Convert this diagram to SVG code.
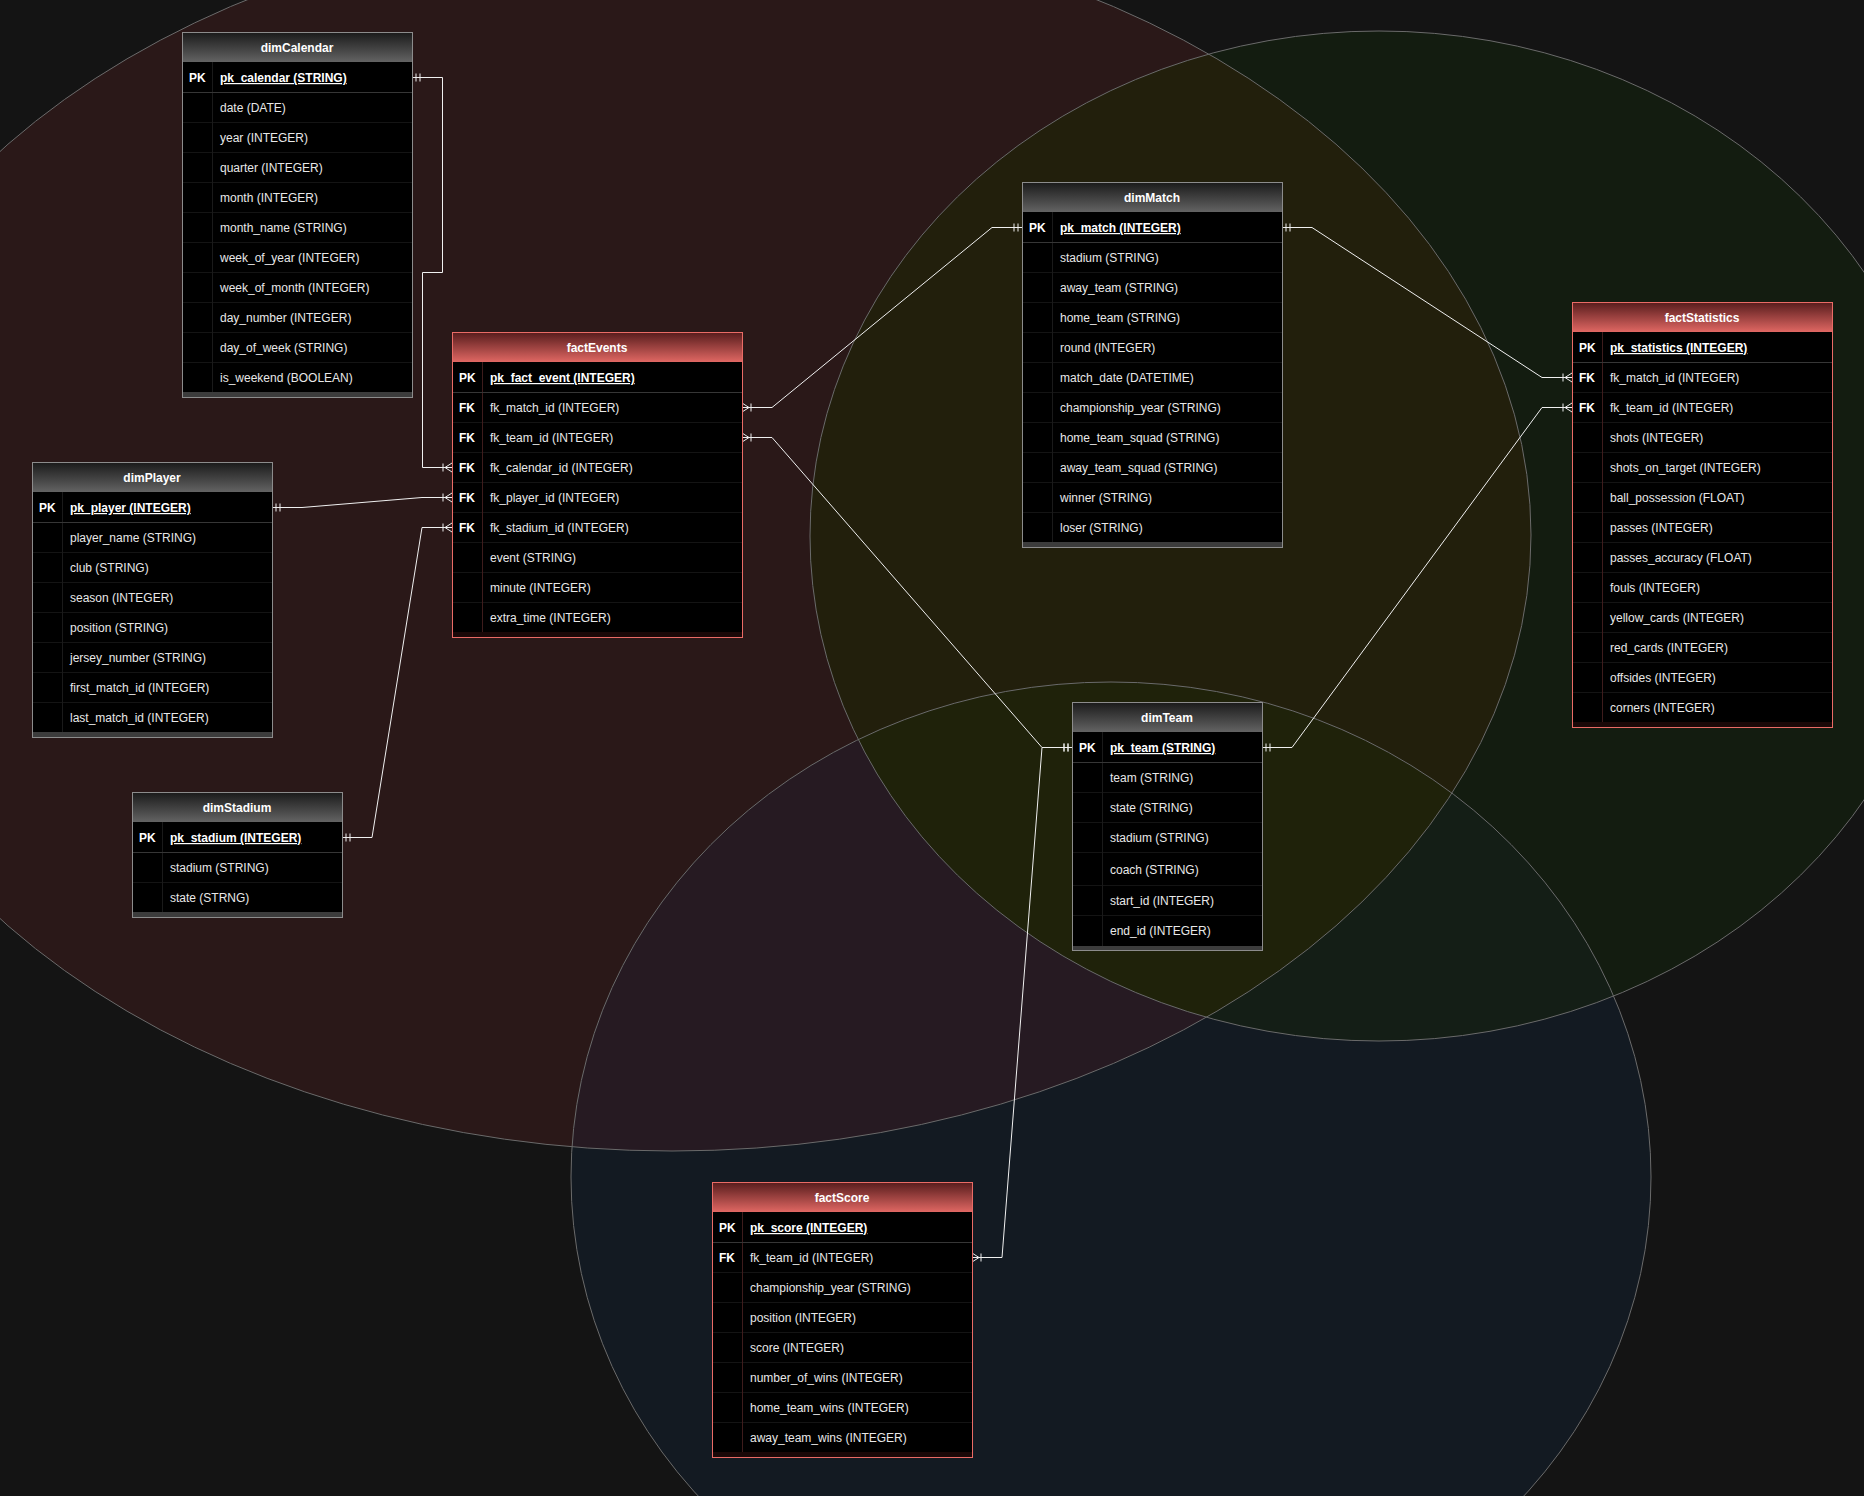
<svg xmlns="http://www.w3.org/2000/svg" width="1864" height="1496" viewBox="0 0 1864 1496">
<style>
  text { font-family: "Liberation Sans", Arial, Helvetica, sans-serif; font-size: 12px; }
  .hd { font-weight: bold; fill: #ffffff; text-anchor: middle; }
  .key { font-weight: bold; fill: #ffffff; }
  .fld { fill: #e8e8e8; }
  .pkf { font-weight: bold; fill: #ffffff; text-decoration: underline; }
  .frame-dim { fill: #3c3c3c; stroke: #8c8c8c; stroke-width: 1; }
  .frame-fact { fill: #1a0808; stroke: #ea6b66; stroke-width: 1; }
  .body { fill: #000000; }
  .sep { fill: none; stroke: #141414; stroke-width: 1; }
  .pksep { fill: none; stroke: #363636; stroke-width: 1; }
  .col-dim { fill: none; stroke: #1a1a1a; stroke-width: 1; }
  .col-fact { fill: none; stroke: #3e1c1c; stroke-width: 1; }
  .conn { fill: none; stroke: #f0f0f0; stroke-width: 1; marker-start: url(#many); marker-end: url(#one); }
  .venn-line { fill: none; stroke: #6a6a6a; stroke-width: 1; }
</style>
<defs>
  <linearGradient id="gDim" x1="0" y1="0" x2="0" y2="1">
    <stop offset="0" stop-color="#1c1c1c"/>
    <stop offset="1" stop-color="#636363"/>
  </linearGradient>
  <linearGradient id="gFact" x1="0" y1="0" x2="0" y2="1">
    <stop offset="0" stop-color="#5a1e1e"/>
    <stop offset="1" stop-color="#e06763"/>
  </linearGradient>
  <ellipse id="eRed" cx="672" cy="535" rx="859" ry="616"/>
  <ellipse id="eGreen" cx="1379" cy="536" rx="569" ry="505"/>
  <ellipse id="eBlue" cx="1111" cy="1177" rx="540" ry="495"/>
  <clipPath id="cpRed"><use href="#eRed"/></clipPath>
  <clipPath id="cpGreen"><use href="#eGreen"/></clipPath>
  <marker id="many" markerUnits="userSpaceOnUse" viewBox="-2 -6 14 12" markerWidth="14" markerHeight="12" refX="0" refY="0" orient="auto">
    <path d="M0,-4.5 L7,0 M0,4.5 L7,0 M0,0 H10 M9,-4 V4" fill="none" stroke="#f0f0f0" stroke-width="1"/>
  </marker>
  <marker id="one" markerUnits="userSpaceOnUse" viewBox="-12 -6 14 12" markerWidth="14" markerHeight="12" refX="0" refY="0" orient="auto">
    <path d="M-4,-4 V4 M-8,-4 V4" fill="none" stroke="#f0f0f0" stroke-width="1"/>
  </marker>
</defs>

<rect x="0" y="0" width="1864" height="1496" fill="#141414"/>

<g id="venn">
  <use href="#eRed" fill="#2a1818"/>
  <use href="#eGreen" fill="#131c10"/>
  <use href="#eBlue" fill="#131a22"/>
  <g clip-path="url(#cpRed)"><use href="#eGreen" fill="#221f0c"/></g>
  <g clip-path="url(#cpRed)"><use href="#eBlue" fill="#261a22"/></g>
  <g clip-path="url(#cpGreen)"><use href="#eBlue" fill="#141e16"/></g>
  <g clip-path="url(#cpRed)"><g clip-path="url(#cpGreen)"><use href="#eBlue" fill="#1f220a"/></g></g>
  <use href="#eRed" class="venn-line"/>
  <use href="#eGreen" class="venn-line"/>
  <use href="#eBlue" class="venn-line"/>
</g>

<g id="connectors">
  <path class="conn" d="M452,467.5 H422.5 V272.5 H442.5 V77.5 H412"/>
  <path class="conn" d="M452,497.5 H422 L302,507.5 H272"/>
  <path class="conn" d="M452,527.5 H422 L372,837.5 H342"/>
  <path class="conn" d="M742,407.5 H772 L992,227.5 H1022"/>
  <path class="conn" d="M1572,377.5 H1542 L1312,227.5 H1282"/>
  <path class="conn" d="M742,437.5 H772 L1042,747.5 H1072"/>
  <path class="conn" d="M1572,407.5 H1542 L1292,747.5 H1262"/>
  <path class="conn" d="M972,1257.5 H1002 L1042,747.5 H1072"/>
</g>

<g id="dimCalendar">
  <rect class="frame-dim" x="182.5" y="32.5" width="230" height="365"/>
  <rect x="183" y="33" width="229" height="29" fill="url(#gDim)"/>
  <rect class="body" x="183" y="62" width="229" height="330"/>
  <path class="sep" d="M183,122.5H412M183,152.5H412M183,182.5H412M183,212.5H412M183,242.5H412M183,272.5H412M183,302.5H412M183,332.5H412M183,362.5H412"/>
  <path class="col-dim" d="M212.5,62V392"/>
  <path class="pksep" d="M183,92.5H412"/>
  <text class="hd" x="297" y="52">dimCalendar</text>
  <text class="key" x="189" y="82">PK</text>
  <text class="pkf" x="220" y="82">pk_calendar (STRING)</text>
  <text class="fld" x="220" y="112">date (DATE)</text>
  <text class="fld" x="220" y="142">year (INTEGER)</text>
  <text class="fld" x="220" y="172">quarter (INTEGER)</text>
  <text class="fld" x="220" y="202">month (INTEGER)</text>
  <text class="fld" x="220" y="232">month_name (STRING)</text>
  <text class="fld" x="220" y="262">week_of_year (INTEGER)</text>
  <text class="fld" x="220" y="292">week_of_month (INTEGER)</text>
  <text class="fld" x="220" y="322">day_number (INTEGER)</text>
  <text class="fld" x="220" y="352">day_of_week (STRING)</text>
  <text class="fld" x="220" y="382">is_weekend (BOOLEAN)</text>
</g>

<g id="dimPlayer">
  <rect class="frame-dim" x="32.5" y="462.5" width="240" height="275"/>
  <rect x="33" y="463" width="239" height="29" fill="url(#gDim)"/>
  <rect class="body" x="33" y="492" width="239" height="240"/>
  <path class="sep" d="M33,552.5H272M33,582.5H272M33,612.5H272M33,642.5H272M33,672.5H272M33,702.5H272"/>
  <path class="col-dim" d="M62.5,492V732"/>
  <path class="pksep" d="M33,522.5H272"/>
  <text class="hd" x="152" y="482">dimPlayer</text>
  <text class="key" x="39" y="512">PK</text>
  <text class="pkf" x="70" y="512">pk_player (INTEGER)</text>
  <text class="fld" x="70" y="542">player_name (STRING)</text>
  <text class="fld" x="70" y="572">club (STRING)</text>
  <text class="fld" x="70" y="602">season (INTEGER)</text>
  <text class="fld" x="70" y="632">position (STRING)</text>
  <text class="fld" x="70" y="662">jersey_number (STRING)</text>
  <text class="fld" x="70" y="692">first_match_id (INTEGER)</text>
  <text class="fld" x="70" y="722">last_match_id (INTEGER)</text>
</g>

<g id="dimStadium">
  <rect class="frame-dim" x="132.5" y="792.5" width="210" height="125"/>
  <rect x="133" y="793" width="209" height="29" fill="url(#gDim)"/>
  <rect class="body" x="133" y="822" width="209" height="90"/>
  <path class="sep" d="M133,882.5H342"/>
  <path class="col-dim" d="M162.5,822V912"/>
  <path class="pksep" d="M133,852.5H342"/>
  <text class="hd" x="237" y="812">dimStadium</text>
  <text class="key" x="139" y="842">PK</text>
  <text class="pkf" x="170" y="842">pk_stadium (INTEGER)</text>
  <text class="fld" x="170" y="872">stadium (STRING)</text>
  <text class="fld" x="170" y="902">state (STRNG)</text>
</g>

<g id="factEvents">
  <rect class="frame-fact" x="452.5" y="332.5" width="290" height="305"/>
  <rect x="453" y="333" width="289" height="29" fill="url(#gFact)"/>
  <rect class="body" x="453" y="362" width="289" height="270"/>
  <path class="sep" d="M453,422.5H742M453,452.5H742M453,482.5H742M453,512.5H742M453,542.5H742M453,572.5H742M453,602.5H742"/>
  <path class="col-fact" d="M482.5,362V632"/>
  <path class="pksep" d="M453,392.5H742"/>
  <text class="hd" x="597" y="352">factEvents</text>
  <text class="key" x="459" y="382">PK</text>
  <text class="pkf" x="490" y="382">pk_fact_event (INTEGER)</text>
  <text class="key" x="459" y="412">FK</text>
  <text class="fld" x="490" y="412">fk_match_id (INTEGER)</text>
  <text class="key" x="459" y="442">FK</text>
  <text class="fld" x="490" y="442">fk_team_id (INTEGER)</text>
  <text class="key" x="459" y="472">FK</text>
  <text class="fld" x="490" y="472">fk_calendar_id (INTEGER)</text>
  <text class="key" x="459" y="502">FK</text>
  <text class="fld" x="490" y="502">fk_player_id (INTEGER)</text>
  <text class="key" x="459" y="532">FK</text>
  <text class="fld" x="490" y="532">fk_stadium_id (INTEGER)</text>
  <text class="fld" x="490" y="562">event (STRING)</text>
  <text class="fld" x="490" y="592">minute (INTEGER)</text>
  <text class="fld" x="490" y="622">extra_time (INTEGER)</text>
</g>

<g id="dimMatch">
  <rect class="frame-dim" x="1022.5" y="182.5" width="260" height="365"/>
  <rect x="1023" y="183" width="259" height="29" fill="url(#gDim)"/>
  <rect class="body" x="1023" y="212" width="259" height="330"/>
  <path class="sep" d="M1023,272.5H1282M1023,302.5H1282M1023,332.5H1282M1023,362.5H1282M1023,392.5H1282M1023,422.5H1282M1023,452.5H1282M1023,482.5H1282M1023,512.5H1282"/>
  <path class="col-dim" d="M1052.5,212V542"/>
  <path class="pksep" d="M1023,242.5H1282"/>
  <text class="hd" x="1152" y="202">dimMatch</text>
  <text class="key" x="1029" y="232">PK</text>
  <text class="pkf" x="1060" y="232">pk_match (INTEGER)</text>
  <text class="fld" x="1060" y="262">stadium (STRING)</text>
  <text class="fld" x="1060" y="292">away_team (STRING)</text>
  <text class="fld" x="1060" y="322">home_team (STRING)</text>
  <text class="fld" x="1060" y="352">round (INTEGER)</text>
  <text class="fld" x="1060" y="382">match_date (DATETIME)</text>
  <text class="fld" x="1060" y="412">championship_year (STRING)</text>
  <text class="fld" x="1060" y="442">home_team_squad (STRING)</text>
  <text class="fld" x="1060" y="472">away_team_squad (STRING)</text>
  <text class="fld" x="1060" y="502">winner (STRING)</text>
  <text class="fld" x="1060" y="532">loser (STRING)</text>
</g>

<g id="factStatistics">
  <rect class="frame-fact" x="1572.5" y="302.5" width="260" height="425"/>
  <rect x="1573" y="303" width="259" height="29" fill="url(#gFact)"/>
  <rect class="body" x="1573" y="332" width="259" height="390"/>
  <path class="sep" d="M1573,392.5H1832M1573,422.5H1832M1573,452.5H1832M1573,482.5H1832M1573,512.5H1832M1573,542.5H1832M1573,572.5H1832M1573,602.5H1832M1573,632.5H1832M1573,662.5H1832M1573,692.5H1832"/>
  <path class="col-fact" d="M1602.5,332V722"/>
  <path class="pksep" d="M1573,362.5H1832"/>
  <text class="hd" x="1702" y="322">factStatistics</text>
  <text class="key" x="1579" y="352">PK</text>
  <text class="pkf" x="1610" y="352">pk_statistics (INTEGER)</text>
  <text class="key" x="1579" y="382">FK</text>
  <text class="fld" x="1610" y="382">fk_match_id (INTEGER)</text>
  <text class="key" x="1579" y="412">FK</text>
  <text class="fld" x="1610" y="412">fk_team_id (INTEGER)</text>
  <text class="fld" x="1610" y="442">shots (INTEGER)</text>
  <text class="fld" x="1610" y="472">shots_on_target (INTEGER)</text>
  <text class="fld" x="1610" y="502">ball_possession (FLOAT)</text>
  <text class="fld" x="1610" y="532">passes (INTEGER)</text>
  <text class="fld" x="1610" y="562">passes_accuracy (FLOAT)</text>
  <text class="fld" x="1610" y="592">fouls (INTEGER)</text>
  <text class="fld" x="1610" y="622">yellow_cards (INTEGER)</text>
  <text class="fld" x="1610" y="652">red_cards (INTEGER)</text>
  <text class="fld" x="1610" y="682">offsides (INTEGER)</text>
  <text class="fld" x="1610" y="712">corners (INTEGER)</text>
</g>

<g id="dimTeam">
  <rect class="frame-dim" x="1072.5" y="702.5" width="190" height="248"/>
  <rect x="1073" y="703" width="189" height="29" fill="url(#gDim)"/>
  <rect class="body" x="1073" y="732" width="189" height="214"/>
  <path class="sep" d="M1073,792.5H1262M1073,822.5H1262M1073,852.5H1262M1073,885.5H1262M1073,915.5H1262"/>
  <path class="col-dim" d="M1102.5,732V946"/>
  <path class="pksep" d="M1073,762.5H1262"/>
  <text class="hd" x="1167" y="722">dimTeam</text>
  <text class="key" x="1079" y="752">PK</text>
  <text class="pkf" x="1110" y="752">pk_team (STRING)</text>
  <text class="fld" x="1110" y="782">team (STRING)</text>
  <text class="fld" x="1110" y="812">state (STRING)</text>
  <text class="fld" x="1110" y="842">stadium (STRING)</text>
  <text class="fld" x="1110" y="874">coach (STRING)</text>
  <text class="fld" x="1110" y="905">start_id (INTEGER)</text>
  <text class="fld" x="1110" y="935">end_id (INTEGER)</text>
</g>

<g id="factScore">
  <rect class="frame-fact" x="712.5" y="1182.5" width="260" height="275"/>
  <rect x="713" y="1183" width="259" height="29" fill="url(#gFact)"/>
  <rect class="body" x="713" y="1212" width="259" height="240"/>
  <path class="sep" d="M713,1272.5H972M713,1302.5H972M713,1332.5H972M713,1362.5H972M713,1392.5H972M713,1422.5H972"/>
  <path class="col-fact" d="M742.5,1212V1452"/>
  <path class="pksep" d="M713,1242.5H972"/>
  <text class="hd" x="842" y="1202">factScore</text>
  <text class="key" x="719" y="1232">PK</text>
  <text class="pkf" x="750" y="1232">pk_score (INTEGER)</text>
  <text class="key" x="719" y="1262">FK</text>
  <text class="fld" x="750" y="1262">fk_team_id (INTEGER)</text>
  <text class="fld" x="750" y="1292">championship_year (STRING)</text>
  <text class="fld" x="750" y="1322">position (INTEGER)</text>
  <text class="fld" x="750" y="1352">score (INTEGER)</text>
  <text class="fld" x="750" y="1382">number_of_wins (INTEGER)</text>
  <text class="fld" x="750" y="1412">home_team_wins (INTEGER)</text>
  <text class="fld" x="750" y="1442">away_team_wins (INTEGER)</text>
</g>
</svg>
